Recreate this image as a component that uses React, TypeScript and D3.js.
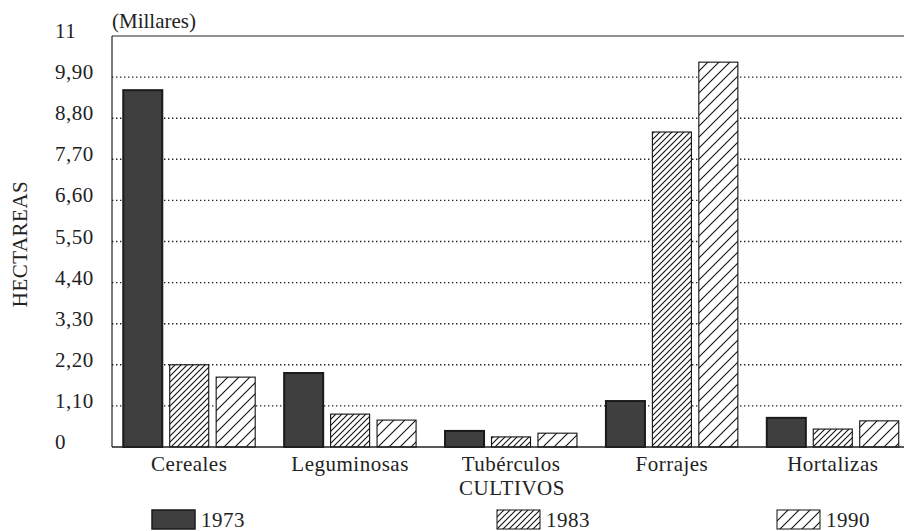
import React from "react";
import * as d3 from "d3";

const categories = ["Cereales", "Leguminosas", "Tubérculos", "Forrajes", "Hortalizas"];
const series = ["1973", "1983", "1990"];
const v1973 = [9.55, 1.98, 0.43, 1.23, 0.78];
const v1983 = [2.2, 0.88, 0.27, 8.43, 0.48];
const v1990 = [1.87, 0.72, 0.37, 10.3, 0.7];
const yTicks = [0, 1.1, 2.2, 3.3, 4.4, 5.5, 6.6, 7.7, 8.8, 9.9, 11];
const yTickLabels = ["0", "1,10", "2,20", "3,30", "4,40", "5,50", "6,60", "7,70", "8,80", "9,90", "11"];

const W = 904, H = 531;
const left = 112, right = 910, top = 36, bottom = 447;
const FONT = "'Liberation Serif', 'Times New Roman', 'DejaVu Serif', serif";
const FS = 21;
const LS = 0.5;

export default function App() {
  const values = [v1973, v1983, v1990];
  const x = d3.scaleBand<string>().domain(categories).range([left, right]).paddingInner(0.18).paddingOuter(0.07);
  const xs = d3.scaleBand<string>().domain(series).range([0, x.bandwidth()]).paddingInner(0.16);
  const y = d3.scaleLinear().domain([0, 11]).range([bottom, top]);
  const fills = ["#3f3f3f", "url(#hatchDense)", "url(#hatchSparse)"];
  const strokes = ["#1a1a1a", "#111", "#111"];
  const legendX = [152, 497, 777];
  const textStyle: React.CSSProperties = { fontFamily: FONT, fontSize: FS, letterSpacing: LS };

  return (
    <svg width={W} height={H} style={{ position: "absolute", left: 0, top: 0, background: "#fff" }}>
      <defs>
        <pattern id="hatchDense" patternUnits="userSpaceOnUse" width={6} height={6}>
          <rect width={6} height={6} fill="#fff" />
          <path d="M0,6 L6,0 M-1,1 L1,-1 M5,7 L7,5" stroke="#111" strokeWidth={1.1} />
        </pattern>
        <pattern id="hatchSparse" patternUnits="userSpaceOnUse" width={11} height={11}>
          <rect width={11} height={11} fill="#fff" />
          <path d="M0,11 L11,0 M-1,1 L1,-1 M10,12 L12,10" stroke="#111" strokeWidth={1.1} />
        </pattern>
      </defs>
      <rect x={0} y={0} width={W} height={H} fill="#fff" />
      {yTicks.slice(1, -1).map((t) => (
        <line key={t} x1={left} x2={W} y1={y(t)} y2={y(t)} stroke="#222" strokeWidth={1.4} strokeDasharray="1.4 2.6" />
      ))}
      <line x1={left} x2={W} y1={top} y2={top} stroke="#222" strokeWidth={1.2} />
      {categories.map((c, i) => (
        <g key={c}>
          {series.map((s, j) => (
            <rect
              key={s}
              x={(x(c) as number) + (xs(s) as number)}
              y={y(values[j][i])}
              width={xs.bandwidth()}
              height={bottom - y(values[j][i])}
              fill={fills[j]}
              stroke={strokes[j]}
              strokeWidth={j === 0 ? 2 : 1.1}
            />
          ))}
        </g>
      ))}
      <line x1={left} x2={left} y1={top} y2={bottom} stroke="#222" strokeWidth={1.2} />
      <line x1={left} x2={W} y1={bottom} y2={bottom} stroke="#222" strokeWidth={1.4} />
      {yTicks.map((t, i) => (
        <text key={t} x={55} y={y(t) + 2} style={textStyle} fill="#222">{yTickLabels[i]}</text>
      ))}
      <text x={112} y={28} style={{ ...textStyle, letterSpacing: 0 }} fill="#222">(Millares)</text>
      <text transform={`translate(27,244) rotate(-90)`} textAnchor="middle" style={textStyle} fill="#222">HECTAREAS</text>
      {categories.map((c) => (
        <text key={c} x={(x(c) as number) + x.bandwidth() / 2} y={471} textAnchor="middle" style={textStyle} fill="#222">{c}</text>
      ))}
      <text x={512} y={494.5} textAnchor="middle" style={textStyle} fill="#222">CULTIVOS</text>
      {series.map((s, j) => (
        <g key={s}>
          <rect x={legendX[j]} y={510} width={43} height={19} fill={fills[j]} stroke={strokes[j]} strokeWidth={j === 0 ? 1.5 : 1} />
          <text x={legendX[j] + 49} y={527} style={textStyle} fill="#222">{s}</text>
        </g>
      ))}
    </svg>
  );
}
